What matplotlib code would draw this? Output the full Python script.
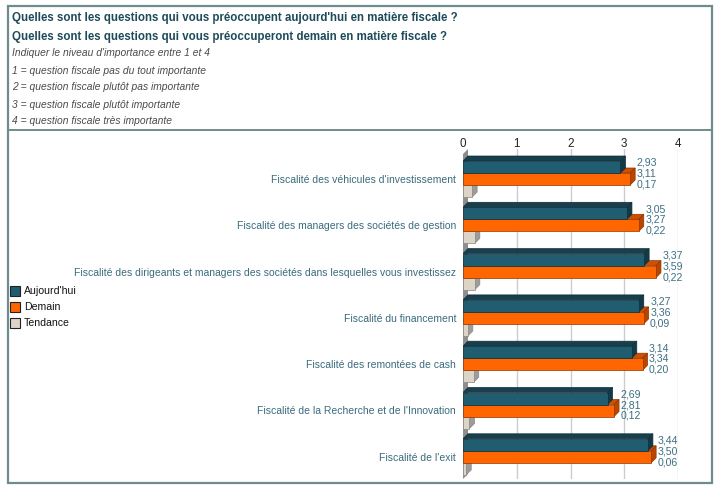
import matplotlib
matplotlib.use("Agg")
import matplotlib.pyplot as plt
from matplotlib.patches import Polygon, Rectangle
import matplotlib.lines as mlines
from matplotlib import font_manager

plt.rcParams['font.family'] = ['Liberation Sans', 'DejaVu Sans']

categories = [
    "Fiscalité des véhicules d'investissement",
    "Fiscalité des managers des sociétés de gestion",
    "Fiscalité des dirigeants et managers des sociétés dans lesquelles vous investissez",
    "Fiscalité du financement",
    "Fiscalité des remontées de cash",
    "Fiscalité de la Recherche et de l'Innovation",
    "Fiscalité de l'exit",
]
aujourdhui = [2.93, 3.05, 3.37, 3.27, 3.14, 2.69, 3.44]
demain = [3.11, 3.27, 3.59, 3.36, 3.34, 2.81, 3.50]
tendance = [0.17, 0.22, 0.22, 0.09, 0.20, 0.12, 0.06]
series_names = ["Aujourd'hui", "Demain", "Tendance"]
xticks = [0, 1, 2, 3, 4]

title_lines = [
    "Quelles sont les questions qui vous préoccupent aujourd'hui en matière fiscale ?",
    "Quelles sont les questions qui vous préoccuperont demain en matière fiscale ?",
]
note_lines = [
    "Indiquer le niveau d'importance entre 1 et 4",
    "1 = question fiscale pas du tout importante",
    "2 = question fiscale plutôt pas importante",
    "3 = question fiscale plutôt importante",
    "4 = question fiscale très importante",
]

# condensed font for value labels if available
narrow_family = None
for fam in ['Liberation Sans Narrow']:
    try:
        font_manager.findfont(font_manager.FontProperties(family=fam), fallback_to_default=False)
        narrow_family = fam
        break
    except Exception:
        pass
if narrow_family:
    val_family, val_size = [narrow_family, 'Liberation Sans'], 8.8
else:
    val_family, val_size = ['Liberation Sans', 'DejaVu Sans'], 7.6

W, H = 718, 489
fig = plt.figure(figsize=(W / 100, H / 100), dpi=100)
fig.patch.set_facecolor('white')

def px_axes(l, t, r, b):
    return fig.add_axes([l / W, 1 - b / H, (r - l) / W, (b - t) / H])

# frame
frame = px_axes(0, 0, W, H)
frame.set_xlim(0, W); frame.set_ylim(H, 0); frame.axis('off')
fc = '#6f8c8c'
frame.add_patch(Rectangle((7.5, 7), 704.5, 477, fill=False, ec=fc, lw=1.6))
frame.add_line(mlines.Line2D([7.5, 712], [131, 131], color=fc, lw=1.4))

title_color = '#1d4b5a'
for k, t in enumerate(title_lines):
    frame.text(12, 17.5 + 19.5 * k, t, fontsize=8.3, fontweight='bold', color=title_color, va='center', ha='left')
for k, t in enumerate(note_lines):
    frame.text(12, 53.5 + 17 * k, t, fontsize=7.4, style='italic', color='#4a4a4a', va='center', ha='left')

# legend
colors_front = ['#215d70', '#ff6600', '#ddd4c8']
colors_top = ['#173f4d', '#d05000', '#ebe5dc']
colors_side = ['#143a47', '#b84600', '#9c9c9c']
colors_edge = ['#0f2e38', '#8f3600', '#8a8580']
for k, name in enumerate(series_names):
    y = 291.5 + 16 * k
    frame.add_patch(Rectangle((10, y - 5), 10, 10, fc=colors_front[k], ec='#222222', lw=0.8))
    frame.text(24, y, name, fontsize=7.6, color='#111111', va='center', ha='left')

# main axes: x 0 -> px 463, 4 -> px 678 ; group boundary c_i = 174 + 46.3*i
x0px, x4px = 463, 678
ppu_x = (x4px - x0px) / 4
ppu_y = 46.3
c0 = 174
top_px, bot_px = 150, 480
ax = px_axes(x0px, top_px, x4px, bot_px)
ax.set_xlim(0, 4)
ax.set_ylim((bot_px - c0) / ppu_y, (top_px - c0) / ppu_y)
for s in ax.spines.values():
    s.set_visible(False)
ax.set_facecolor('none')

dx = 5 / ppu_x
dy = 5 / ppu_y
h = 12 / ppu_y

for xv in xticks[1:]:
    ax.axvline(xv, color='#cccccc', lw=1.0, zorder=0)

ax.xaxis.tick_top()
ax.set_xticks(xticks)
ax.set_xticklabels([str(v) for v in xticks], fontsize=8.4, color='#222222')
ax.tick_params(axis='x', length=0, pad=0)

ymin, ymax = ax.get_ylim()[1], ax.get_ylim()[0]
# wall at x=0
ax.add_patch(Polygon([(0, ymax), (0, ymin + dy), (dx, ymin), (dx, ymax - dy)],
                     closed=True, fc='#8e8e8e', ec='none', zorder=1))

def bar3d(v, ytop, k, z):
    ybot = ytop + h
    ax.add_patch(Polygon([(0, ytop), (v, ytop), (v + dx, ytop - dy), (dx, ytop - dy)],
                         closed=True, fc=colors_top[k], ec=colors_edge[k], lw=0.5, zorder=z))
    ax.add_patch(Polygon([(v, ytop), (v, ybot), (v + dx, ybot - dy), (v + dx, ytop - dy)],
                         closed=True, fc=colors_side[k], ec=colors_edge[k], lw=0.5, zorder=z))
    ax.add_patch(Rectangle((0, ytop), v, h, fc=colors_front[k], ec=colors_edge[k], lw=0.5, zorder=z))

def fmt(v):
    return f"{v:.2f}".replace('.', ',')

lab_color = '#3d6f82'
for i, cat in enumerate(categories):
    vals = [aujourdhui[i], demain[i], tendance[i]]
    tops = [i - h, i, i + h]
    for k in [2, 1, 0]:
        bar3d(vals[k], tops[k], k, 5 - k)
    xl = max(vals) + dx + 1.5 / ppu_x
    for k in range(3):
        ax.text(xl, i - 0.24 + k * (10.8 / ppu_y), fmt(vals[k]), fontsize=val_size, color=lab_color,
                family=val_family, ha='left', va='center', zorder=10, clip_on=False)

ax.set_yticks([i + 5 / ppu_y for i in range(len(categories))])
ax.set_yticklabels(categories, fontsize=7.45, color='#3a6b7c')
ax.tick_params(axis='y', length=0, pad=5)

fig.savefig('out.png', dpi=100)
